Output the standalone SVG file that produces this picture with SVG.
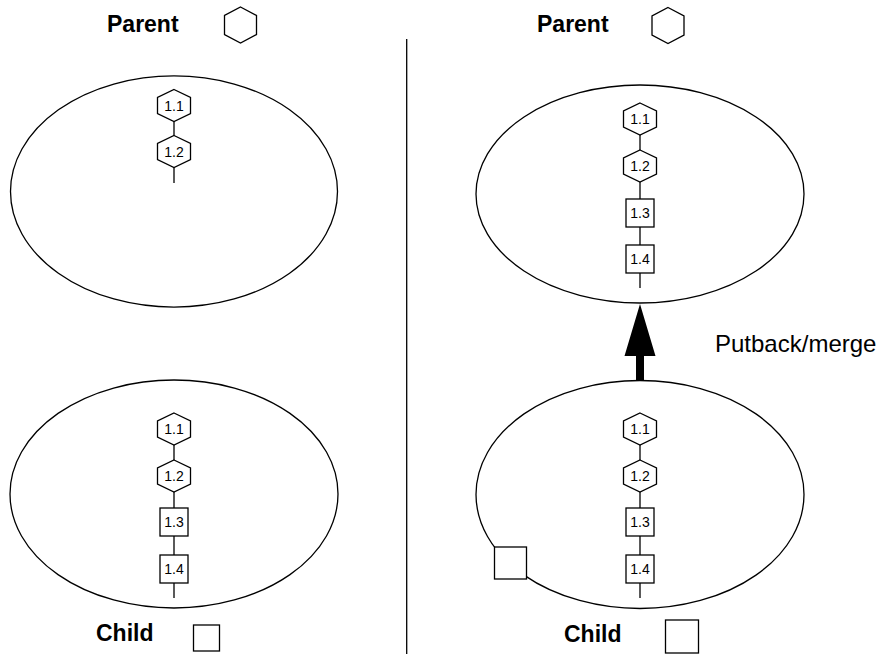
<svg xmlns="http://www.w3.org/2000/svg" xmlns:xlink="http://www.w3.org/1999/xlink" width="884" height="654" viewBox="0 0 884 654">
<style>
.ln{stroke:#000;stroke-width:1.3;fill:none}
.sh{stroke:#000;stroke-width:1.3;fill:#fff}
.lbl{font-family:"Liberation Sans",Arial,sans-serif;font-size:14px;text-anchor:middle;fill:#000}
.title{font-family:"Liberation Sans",Arial,sans-serif;font-size:23px;font-weight:bold;fill:#000}
.note{font-family:"Liberation Sans",Arial,sans-serif;font-size:24px;fill:#000}
</style>
<defs>
<polygon id="hex" points="0,-16 16.5,-8 16.5,8 0,16 -16.5,8 -16.5,-8"/>
<polygon id="bighex" points="0,-18 16,-9.5 16,9.5 0,18 -16,9.5 -16,-9.5"/>
<rect id="sq" x="-14" y="-14" width="28" height="28"/>
</defs>
<rect width="884" height="654" fill="#fff"/>

<g id="divider"><line class="ln" x1="406.7" y1="39" x2="406.7" y2="654"/></g>

<g id="legend-left">
<text class="title" x="96" y="641">Child</text>
<rect class="sh" x="193.5" y="625" width="26" height="26"/>
<text class="title" x="107" y="32">Parent</text>
<use href="#bighex" class="sh" x="240.5" y="25"/>
</g>
<g id="legend-right">
<text class="title" x="537" y="32">Parent</text>
<use href="#bighex" class="sh" x="668" y="25.5"/>
<text class="title" x="564" y="642">Child</text>
<rect class="sh" x="665.5" y="620" width="33" height="33"/>
</g>

<g id="parent-left"><ellipse class="sh" cx="174" cy="191.5" rx="163.5" ry="115.6"/></g>
<g id="child-left"><ellipse class="sh" cx="174" cy="494" rx="164" ry="114"/></g>
<g id="parent-right"><ellipse class="sh" cx="640" cy="194" rx="164" ry="109"/></g>
<g id="child-right"><ellipse class="sh" cx="640" cy="494.5" rx="164" ry="114"/></g>

<g id="connectors">
<line class="ln" x1="174" y1="121" x2="174" y2="136"/>
<line class="ln" x1="174" y1="167" x2="174" y2="183"/>
<line class="ln" x1="174" y1="445" x2="174" y2="460"/>
<line class="ln" x1="174" y1="492" x2="174" y2="508"/>
<line class="ln" x1="174" y1="536" x2="174" y2="555"/>
<line class="ln" x1="174" y1="583" x2="174" y2="598"/>
<line class="ln" x1="640" y1="135" x2="640" y2="150"/>
<line class="ln" x1="640" y1="182" x2="640" y2="199"/>
<line class="ln" x1="640" y1="227" x2="640" y2="245"/>
<line class="ln" x1="640" y1="273" x2="640" y2="288"/>
<line class="ln" x1="640" y1="445" x2="640" y2="460"/>
<line class="ln" x1="640" y1="492" x2="640" y2="508"/>
<line class="ln" x1="640" y1="536" x2="640" y2="555"/>
<line class="ln" x1="640" y1="583" x2="640" y2="598"/>
<polygon id="putback-arrow" points="640,304 655.5,356 644,356 644,381 636,381 636,356 624.5,356" fill="#000"/>
</g>

<g id="pl-1.1"><use href="#hex" class="sh" x="174" y="105.5"/><text class="lbl" x="174" y="110.5">1.1</text></g>
<g id="pl-1.2"><use href="#hex" class="sh" x="174" y="151.5"/><text class="lbl" x="174" y="156.5">1.2</text></g>

<g id="cl-1.1"><use href="#hex" class="sh" x="174" y="429"/><text class="lbl" x="174" y="434">1.1</text></g>
<g id="cl-1.2"><use href="#hex" class="sh" x="174" y="476"/><text class="lbl" x="174" y="481">1.2</text></g>
<g id="cl-1.3"><use href="#sq" class="sh" x="174" y="522"/><text class="lbl" x="174" y="527">1.3</text></g>
<g id="cl-1.4"><use href="#sq" class="sh" x="174" y="569"/><text class="lbl" x="174" y="574">1.4</text></g>

<g id="pr-1.1"><use href="#hex" class="sh" x="640" y="119"/><text class="lbl" x="640" y="124">1.1</text></g>
<g id="pr-1.2"><use href="#hex" class="sh" x="640" y="166"/><text class="lbl" x="640" y="171">1.2</text></g>
<g id="pr-1.3"><use href="#sq" class="sh" x="640" y="213"/><text class="lbl" x="640" y="218">1.3</text></g>
<g id="pr-1.4"><use href="#sq" class="sh" x="640" y="259"/><text class="lbl" x="640" y="264">1.4</text></g>

<g id="cr-1.1"><use href="#hex" class="sh" x="640" y="429"/><text class="lbl" x="640" y="434">1.1</text></g>
<g id="cr-1.2"><use href="#hex" class="sh" x="640" y="476"/><text class="lbl" x="640" y="481">1.2</text></g>
<g id="cr-1.3"><use href="#sq" class="sh" x="640" y="522"/><text class="lbl" x="640" y="527">1.3</text></g>
<g id="cr-1.4"><use href="#sq" class="sh" x="640" y="569"/><text class="lbl" x="640" y="574">1.4</text></g>

<g id="child-square"><rect class="sh" x="494.5" y="547" width="32" height="32"/></g>

<g id="putback-label"><text class="note" x="715" y="352">Putback/merge</text></g>
</svg>
